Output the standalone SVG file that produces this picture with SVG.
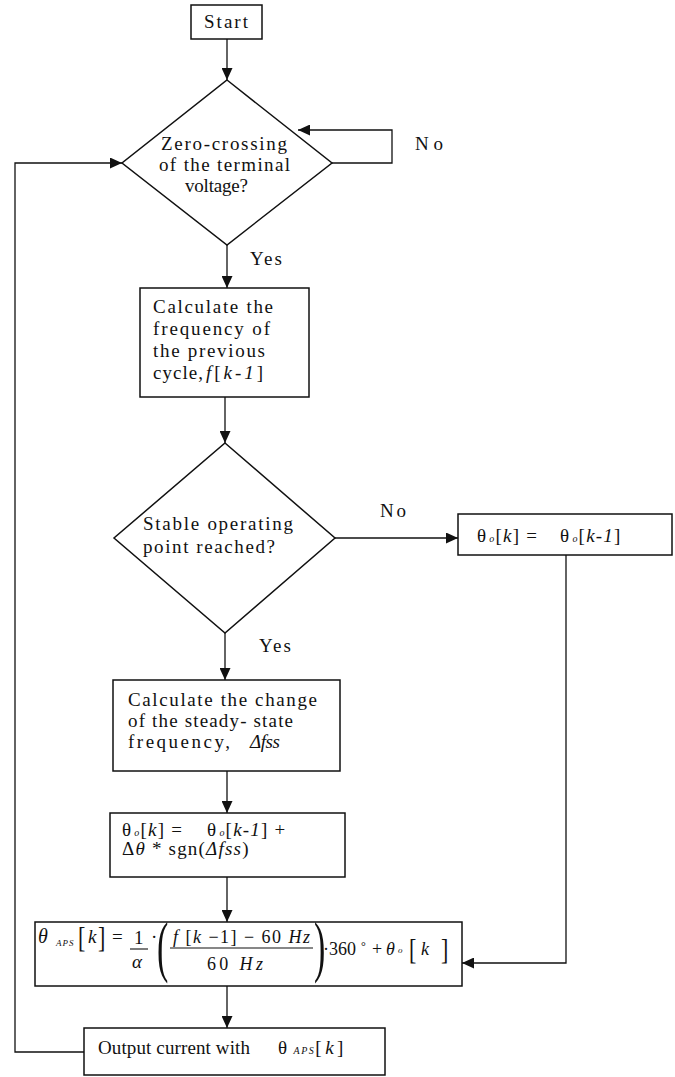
<svg xmlns="http://www.w3.org/2000/svg" width="675" height="1077" viewBox="0 0 675 1077">
<style>
.n{fill:#fff;stroke:#111;stroke-width:1.5}
.t{font-family:"Liberation Serif","Times New Roman",serif;font-size:19px;fill:#111}
.i{font-style:italic}
.s{font-size:10px;font-style:italic}
.c{fill:none;stroke:#111;stroke-width:1.3}
.bar{stroke:#111;stroke-width:1.1}
</style>
<defs>
<marker id="ah" markerUnits="userSpaceOnUse" markerWidth="12" markerHeight="11" refX="12" refY="5.5" orient="auto"><path d="M0,0 L12,5.5 L0,11 z" fill="#111"/></marker>
</defs>
<rect width="675" height="1077" fill="#fff"/>
<g id="connectors">
<path class="c" d="M227,39 V80" marker-end="url(#ah)"/>
<path class="c" d="M332,163 H392 V130 H298" marker-end="url(#ah)"/>
<path class="c" d="M84,1052 H15 V163 H122" marker-end="url(#ah)"/>
<path class="c" d="M227,245 V288" marker-end="url(#ah)"/>
<path class="c" d="M225,397 V443" marker-end="url(#ah)"/>
<path class="c" d="M335,538 H458" marker-end="url(#ah)"/>
<path class="c" d="M225,633 V680" marker-end="url(#ah)"/>
<path class="c" d="M227,771 V813" marker-end="url(#ah)"/>
<path class="c" d="M566,555 V963 H462" marker-end="url(#ah)"/>
<path class="c" d="M227,877 V922" marker-end="url(#ah)"/>
<path class="c" d="M227,986 V1028" marker-end="url(#ah)"/>
<text class="t" x="415" y="150" textLength="28" lengthAdjust="spacing">No</text>
<text class="t" x="250" y="265" textLength="32" lengthAdjust="spacing">Yes</text>
<text class="t" x="380" y="517" textLength="26" lengthAdjust="spacing">No</text>
<text class="t" x="259" y="652" textLength="32" lengthAdjust="spacing">Yes</text>
</g>
<g id="start">
<rect class="n" x="191" y="5" width="71" height="34"/>
<text class="t" x="204" y="28" textLength="44" lengthAdjust="spacing">Start</text>
</g>
<g id="zero-crossing">
<polygon class="n" points="227,80 332,163 227,245 122,163"/>
<text class="t" x="161" y="150" textLength="126" lengthAdjust="spacing">Zero-crossing</text>
<text class="t" x="159" y="171" textLength="131" lengthAdjust="spacing">of the terminal</text>
<text class="t" x="185" y="192" textLength="63" lengthAdjust="spacing">voltage?</text>
</g>
<g id="calc-frequency">
<rect class="n" x="140" y="288" width="169" height="109"/>
<text class="t" x="153" y="313" textLength="120" lengthAdjust="spacing">Calculate the</text>
<text class="t" x="153" y="335" textLength="117" lengthAdjust="spacing">frequency of</text>
<text class="t" x="153" y="357" textLength="112" lengthAdjust="spacing">the previous</text>
<text class="t" x="153" y="379" textLength="50" lengthAdjust="spacing">cycle,</text>
<text class="t" x="206" y="379" textLength="57" lengthAdjust="spacing"><tspan class="i">f</tspan>[<tspan class="i">k-1</tspan>]</text>
</g>
<g id="stable">
<polygon class="n" points="225,443 335,538 225,633 114,538"/>
<text class="t" x="143" y="530" textLength="150" lengthAdjust="spacing">Stable operating</text>
<text class="t" x="143" y="553" textLength="132" lengthAdjust="spacing">point reached?</text>
</g>
<g id="theta-hold">
<rect class="n" x="458" y="514" width="214" height="41"/>
<text class="t" x="477" y="542" style="letter-spacing:1.2px">θ<tspan class="s" dx="2">o</tspan>[<tspan class="i">k</tspan>] =<tspan dx="22">θ</tspan><tspan class="s" dx="2">o</tspan>[<tspan class="i">k-1</tspan>]</text>
</g>
<g id="calc-change">
<rect class="n" x="113" y="680" width="227" height="91"/>
<text class="t" x="128" y="706" textLength="189" lengthAdjust="spacing">Calculate the change</text>
<text class="t" x="128" y="727" textLength="165" lengthAdjust="spacing">of the steady- state</text>
<text class="t" x="128" y="748" textLength="102" lengthAdjust="spacing">frequency,</text>
<text class="t i" x="250" y="748" textLength="30" lengthAdjust="spacing">Δfss</text>
</g>
<g id="theta-update">
<rect class="n" x="110" y="813" width="235" height="64"/>
<text class="t" x="122" y="836" style="letter-spacing:1.2px">θ<tspan class="s" dx="2">o</tspan>[<tspan class="i">k</tspan>] =<tspan dx="24">θ</tspan><tspan class="s" dx="2">o</tspan>[<tspan class="i">k-1</tspan>] +</text>
<text class="t" x="122" y="855" style="letter-spacing:1.2px">Δ<tspan class="i">θ</tspan> * sgn(<tspan class="i">Δfss</tspan>)</text>
</g>
<g id="formula">
<rect class="n" x="35" y="922" width="427" height="64"/>
<text class="t i" x="38" y="943" style="font-size:20px">θ</text>
<text class="t i" x="56" y="946" style="font-size:9px;letter-spacing:1px">APS</text>
<text class="t" transform="translate(78,947) scale(1,1.35)" style="font-size:22px">[</text>
<text class="t i" x="88" y="943">k</text>
<text class="t" transform="translate(98,947) scale(1,1.35)" style="font-size:22px">]</text>
<text class="t" x="112" y="943">=</text>
<text class="t" x="134" y="944">1</text>
<line class="bar" x1="130" y1="949" x2="148" y2="949"/>
<text class="t i" x="132" y="968">α</text>
<text class="t" x="151" y="943">·</text>
<text class="t" transform="translate(157,969) scale(0.5,1)" style="font-size:68px">(</text>
<text class="t" x="173" y="943" textLength="137" lengthAdjust="spacing" style="font-size:18px"><tspan class="i">f</tspan> [<tspan class="i">k</tspan> −1] − 60 <tspan class="i">Hz</tspan></text>
<line class="bar" x1="170" y1="948" x2="313" y2="948"/>
<text class="t" x="207" y="970" textLength="56" lengthAdjust="spacing" style="font-size:18px">60 <tspan class="i">Hz</tspan></text>
<text class="t" transform="translate(314,969) scale(0.5,1)" style="font-size:68px">)</text>
<text class="t" x="323" y="955" style="font-size:18px">·360</text>
<text class="t" x="361" y="950" style="font-size:12px">°</text>
<text class="t" x="372" y="955" style="font-size:18px">+</text>
<text class="t i" x="386" y="955" style="font-size:18px">θ</text>
<text class="t i" x="398" y="953" style="font-size:9px">o</text>
<text class="t" transform="translate(409,959) scale(1,1.35)" style="font-size:22px">[</text>
<text class="t i" x="421" y="955" style="font-size:18px">k</text>
<text class="t" transform="translate(441,959) scale(1,1.35)" style="font-size:22px">]</text>
</g>
<g id="output">
<rect class="n" x="84" y="1028" width="301" height="47"/>
<text class="t" x="98" y="1054" textLength="152" lengthAdjust="spacing">Output current with</text>
<text class="t" x="278" y="1054" style="letter-spacing:1.5px">θ<tspan class="s" dx="5">APS</tspan>[<tspan class="i" dx="2">k</tspan><tspan dx="2">]</tspan></text>
</g>
</svg>
